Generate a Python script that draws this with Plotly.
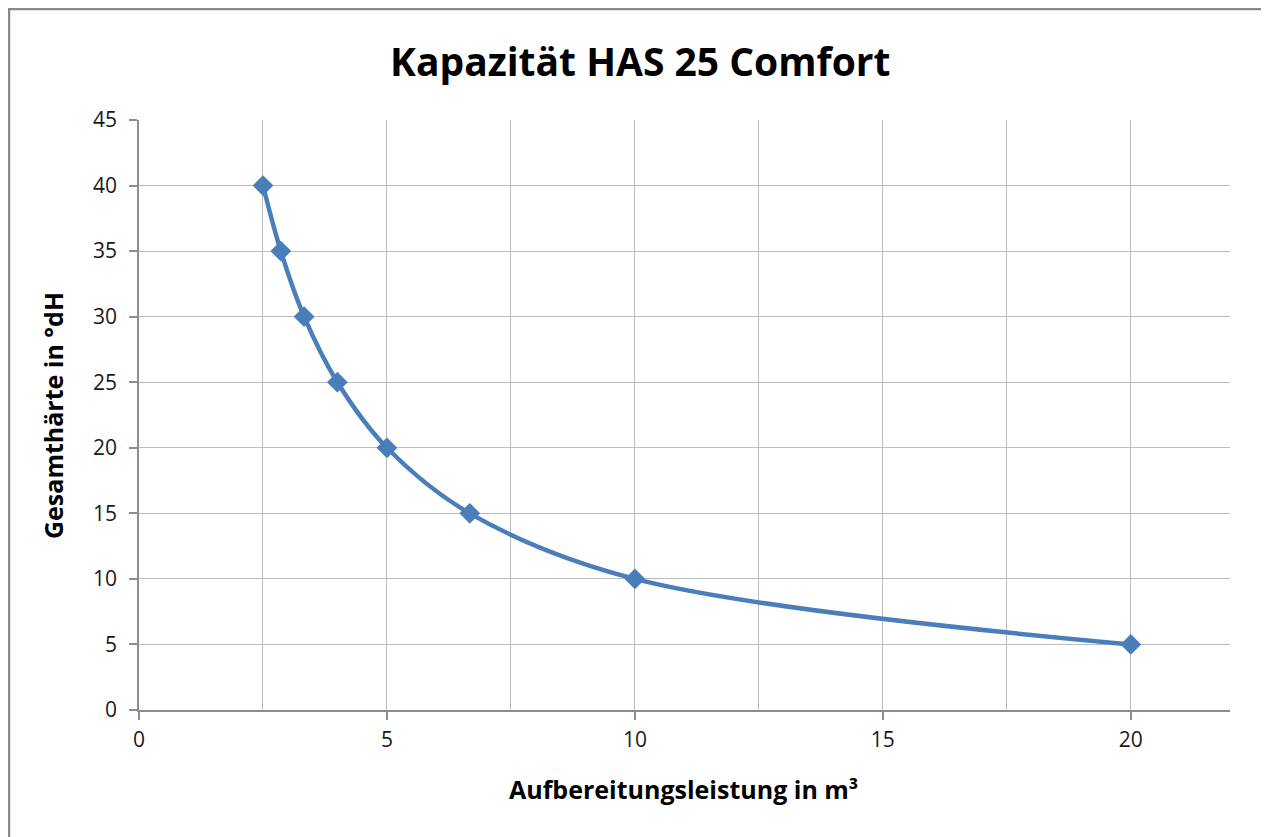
import plotly.graph_objects as go

# Data
aufbereitung_m3 = [2.5, 2.86, 3.33, 4.0, 5.0, 6.67, 10.0, 20.0]
gesamthaerte_dH = [40, 35, 30, 25, 20, 15, 10, 5]

title_text = "Kapazität HAS 25 Comfort"
x_title = "Aufbereitungsleistung in m³"
y_title = "Gesamthärte in °dH"

# The page body has an 8px default margin; figure sized to fit the window.
OFF = 8
W, H = 1269 - OFF, 837 - OFF
L, T = 139 - OFF, 120 - OFF
R = W - (1230 - OFF)
B = H - (710 - OFF)
FONT = "Open Sans"

fig = go.Figure()
fig.add_trace(go.Scatter(
    x=aufbereitung_m3, y=gesamthaerte_dH,
    mode="lines+markers",
    line=dict(color="#4A7EBB", width=4.5, shape="spline", smoothing=1),
    marker=dict(symbol="diamond", size=16, color="#4A7EBB"),
    showlegend=False,
))

grid_c = "#BDBDBD"
axis_c = "#8C8C8C"

fig.update_xaxes(
    range=[0, 22], tick0=0, dtick=5, showgrid=True, gridcolor=grid_c, gridwidth=1,
    minor=dict(dtick=2.5, showgrid=True, gridcolor=grid_c, gridwidth=1),
    showline=True, linecolor=axis_c, linewidth=1.5,
    ticks="outside", ticklen=8, tickcolor=axis_c, tickwidth=1.5,
    zeroline=False,
    tickfont=dict(family=FONT, size=21, color="#1a1a1a"),
    ticklabelstandoff=2,
)
fig.update_yaxes(
    range=[0, 45], tick0=0, dtick=5, showgrid=True, gridcolor=grid_c, gridwidth=1,
    showline=True, linecolor=axis_c, linewidth=1.5,
    ticks="outside", ticklen=8, tickcolor=axis_c, tickwidth=1.5,
    zeroline=False,
    tickfont=dict(family=FONT, size=21, color="#1a1a1a"),
    ticklabelstandoff=8,
)

pw = W - L - R
ph = H - T - B

# Helpers converting page-pixel positions (as in the reference) to paper coords
def px_to_paper_x(px):
    return (px - OFF - L) / pw

def px_to_paper_y(py):
    return 1 - (py - OFF - T) / ph

# Title
fig.add_annotation(
    text=title_text, xref="paper", yref="paper",
    x=px_to_paper_x(640), y=px_to_paper_y(60),
    xanchor="center", yanchor="middle", showarrow=False,
    font=dict(family=FONT, size=39, color="#000000", weight="bold"),
)
# X axis title
fig.add_annotation(
    text=x_title, xref="paper", yref="paper",
    x=px_to_paper_x(683), y=px_to_paper_y(789),
    xanchor="center", yanchor="middle", showarrow=False,
    font=dict(family=FONT, size=25, color="#000000", weight="bold"),
)
# Y axis title
fig.add_annotation(
    text=y_title, xref="paper", yref="paper",
    x=px_to_paper_x(53), y=px_to_paper_y(416),
    xanchor="center", yanchor="middle", showarrow=False, textangle=-90,
    font=dict(family=FONT, size=25, color="#000000", weight="bold"),
)

# Outer chart frame
fig.add_shape(
    type="rect", xref="paper", yref="paper",
    x0=px_to_paper_x(9), y0=px_to_paper_y(900),
    x1=px_to_paper_x(1300), y1=px_to_paper_y(9),
    line=dict(color="#8A8A8A", width=2.5), fillcolor="rgba(0,0,0,0)",
    layer="below",
)

fig.update_layout(
    width=W, height=H,
    margin=dict(l=L, r=R, t=T, b=B),
    paper_bgcolor="white", plot_bgcolor="white",
)

fig.write_html("out.html")
